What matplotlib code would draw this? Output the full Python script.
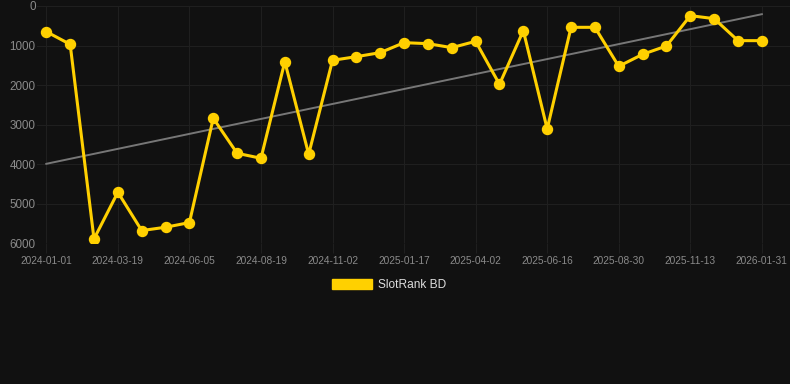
import numpy as np
import matplotlib.pyplot as plt
from matplotlib.patches import Patch

# rank values, one per sample (plotted evenly spaced)
ranks = [649, 969, 5889, 4709, 5678, 5594, 5476, 2839, 3724, 3850,
         1407, 3749, 1373, 1281, 1179, 927, 952, 1053, 893, 1980,
         623, 3109, 539, 539, 1525, 1222, 1011, 244, 320, 876, 876]
tick_labels = ["2024-01-01", "2024-03-19", "2024-06-05", "2024-08-19", "2024-11-02",
               "2025-01-17", "2025-04-02", "2025-06-16", "2025-08-30", "2025-11-13",
               "2026-01-31"]
y_ticks = [0, 1000, 2000, 3000, 4000, 5000, 6000]
series_name = "SlotRank BD"

BG = "#111111"
GOLD = "#FFD000"
GRID = "#1f1f1f"

plt.rcParams['font.family'] = ['Liberation Sans', 'DejaVu Sans']

fig = plt.figure(figsize=(7.9, 3.84), dpi=100, facecolor=BG)
ax = fig.add_axes([37 / 790, 1 - 243.3 / 384, 753 / 790, 237.3 / 384])
ax.set_facecolor(BG)

x = np.arange(len(ranks))
trend = np.polyfit(x, ranks, 1)
ax.plot(x, np.polyval(trend, x), color="#777777", lw=1.4, zorder=2)
ax.plot(x, ranks, color=GOLD, lw=2.2, marker="o", markersize=7.2, zorder=3)

ax.set_xlim(-0.39, 31.18)
ax.set_ylim(6000, 0)
ax.set_yticks(y_ticks)
ax.set_xticks(x[::3])
ax.set_xticklabels(tick_labels)

ax.grid(True, color=GRID, lw=0.8)
ax.set_axisbelow(True)
for s in ax.spines.values():
    s.set_visible(False)
ax.tick_params(axis="x", length=7, width=0.8, color=GRID, pad=2,
               labelsize=7.3, labelcolor="#8a8a8a")
ax.tick_params(axis="y", length=0, pad=1, labelsize=8.4, labelcolor="#8a8a8a")

handle = Patch(facecolor=GOLD, edgecolor=GOLD)
fig.legend([handle], [series_name], loc="center", bbox_to_anchor=(0.493, 0.258),
           frameon=False, fontsize=8.6, labelcolor="#dddddd",
           handlelength=3.35, handleheight=0.92, handletextpad=0.5)

plt.savefig("out.png", dpi=100, facecolor=BG)
